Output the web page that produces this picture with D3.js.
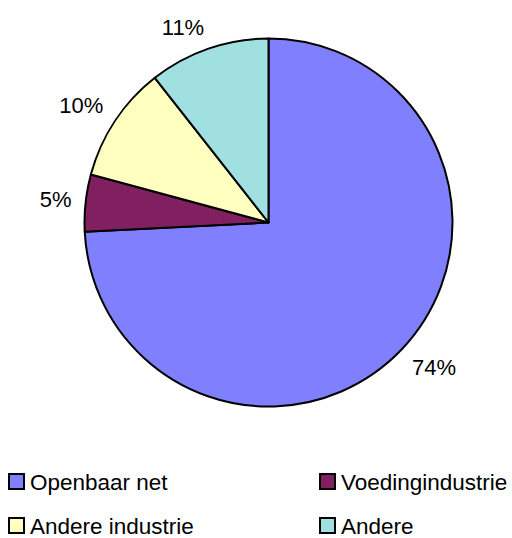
<!DOCTYPE html>
<html lang="nl">
<head>
    <meta charset="UTF-8">
    <title>Verdeling</title>
    <script src="https://d3js.org/d3.v7.min.js"></script>
    <style>
        body {
            margin: 0;
            background: #fff;
        }
        text {
            font-family: "Liberation Sans", Arial, sans-serif;
            fill: #000;
        }
    </style>
</head>
<body>
    <div id="chart"></div>

    <script>
        // waarden zoals (met de klok mee vanaf 12 uur)
        const categories = ["Openbaar net", "Voedingindustrie", "Andere industrie", "Andere"];
        const values = [74.2, 5.0, 10.2, 10.6];
        const labels = ["74%", "5%", "10%", "11%"];
        const colors = ["#8080FF", "#802060", "#FFFFC0", "#A0E0E0"];

        const width = 512;
        const height = 538;
        const cx = 268.5, cy = 222.5;
        const radius = 184;
        const labelFont = 22;
        const capH = labelFont * 0.716;

        const svg = d3.select("#chart").append("svg")
            .attr("width", width)
            .attr("height", height);

        const pie = d3.pie().sort(null).value(d => d);
        const arcs = pie(values);

        const arc = d3.arc().innerRadius(0).outerRadius(radius);
        // ankerpunt van het label: net buiten de taart, op de middellijn van de sector
        const anchorArc = d3.arc().innerRadius(198).outerRadius(198);

        const g = svg.append("g").attr("transform", `translate(${cx},${cy})`);

        g.selectAll("path")
            .data(arcs)
            .enter()
            .append("path")
            .attr("d", arc)
            .attr("fill", (d, i) => colors[i])
            .attr("stroke", "#000")
            .attr("stroke-width", 2)
            .attr("stroke-linejoin", "round");

        // label zoals Excel: de hoek van het tekstvak die naar het midden wijst ligt op het ankerpunt
        const push = v => Math.max(-1, Math.min(1, v * 3));

        g.selectAll("text.pct")
            .data(arcs)
            .enter()
            .append("text")
            .attr("class", "pct")
            .attr("text-anchor", "middle")
            .style("font-size", labelFont + "px")
            .text((d, i) => labels[i])
            .each(function(d) {
                const [px, py] = anchorArc.centroid(d);
                const len = Math.hypot(px, py);
                const w = this.getComputedTextLength();
                const tx = px + push(px / len) * w / 2;
                const ty = py + push(py / len) * capH / 2;
                d3.select(this)
                    .attr("x", tx)
                    .attr("y", ty + capH / 2);
            });

        // legenda: 2 kolommen
        const legend = svg.append("g");
        const legendX = [9, 320];
        const legendY = [474, 518];

        categories.forEach((c, i) => {
            const lx = legendX[i % 2];
            const ly = legendY[Math.floor(i / 2)];
            legend.append("rect")
                .attr("x", lx)
                .attr("y", ly)
                .attr("width", 15)
                .attr("height", 15)
                .attr("fill", colors[i])
                .attr("stroke", "#000")
                .attr("stroke-width", 2);
            legend.append("text")
                .attr("x", lx + 21)
                .attr("y", ly + 15.5)
                .style("font-size", "22.5px")
                .text(c);
        });
    </script>
</body>
</html>
